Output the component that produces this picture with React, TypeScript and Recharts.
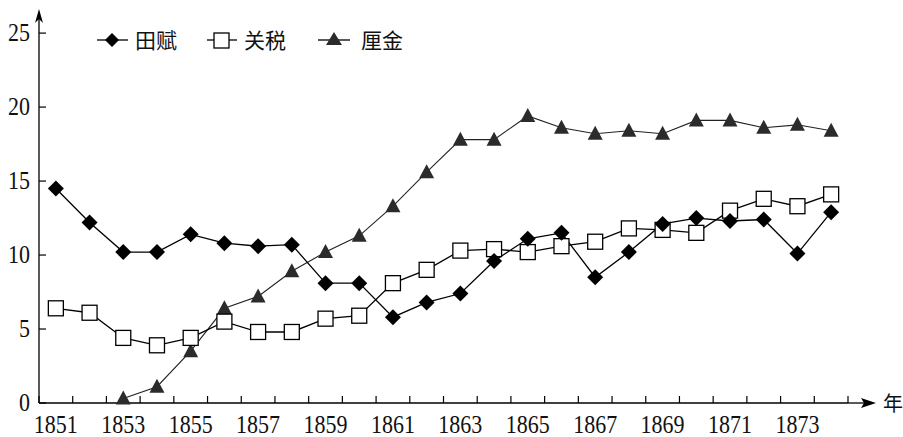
import { Line, LineChart, XAxis, YAxis } from "recharts";

// years on the x axis, one band each
const years = [
  1851, 1852, 1853, 1854, 1855, 1856, 1857, 1858, 1859, 1860, 1861, 1862,
  1863, 1864, 1865, 1866, 1867, 1868, 1869, 1870, 1871, 1872, 1873, 1874,
];
const yearLabels = [1851, 1853, 1855, 1857, 1859, 1861, 1863, 1865, 1867, 1869, 1871, 1873];
const yTicks = [0, 5, 10, 15, 20, 25];

// 田赋
const tianfu = [
  14.5, 12.2, 10.2, 10.2, 11.4, 10.8, 10.6, 10.7, 8.1, 8.1, 5.8, 6.8,
  7.4, 9.6, 11.1, 11.5, 8.5, 10.2, 12.1, 12.5, 12.3, 12.4, 10.1, 12.9,
];
// 关税
const guanshui = [
  6.4, 6.1, 4.4, 3.9, 4.4, 5.5, 4.8, 4.8, 5.7, 5.9, 8.1, 9.0,
  10.3, 10.4, 10.2, 10.6, 10.9, 11.8, 11.7, 11.5, 13.0, 13.8, 13.3, 14.1,
];
// 厘金 (none before 1853)
const lijin = [
  null, null, 0.3, 1.1, 3.5, 6.4, 7.2, 8.9, 10.2, 11.3, 13.3, 15.6,
  17.8, 17.8, 19.4, 18.6, 18.2, 18.4, 18.2, 19.1, 19.1, 18.6, 18.8, 18.4,
];

const data = years.map((year, i) => ({
  year,
  tianfu: tianfu[i],
  guanshui: guanshui[i],
  lijin: lijin[i],
}));

// tick marks sit on the band edges, labels on the odd years
const bandEdges = [...years.map((y) => y - 0.5), years[years.length - 1] + 0.5];
const xTicks = [...bandEdges, ...yearLabels].sort((a, b) => a - b);

const numFont = '"Liberation Serif", "Times New Roman", serif';
const cjkFont = '"Noto Sans CJK SC", sans-serif';

function Diamond({ cx, cy }: any) {
  if (cx == null || cy == null) return null;
  const r = 8;
  return (
    <polygon
      points={`${cx},${cy - r} ${cx + r},${cy} ${cx},${cy + r} ${cx - r},${cy}`}
      fill="#000"
    />
  );
}

function Square({ cx, cy }: any) {
  if (cx == null || cy == null) return null;
  return <rect x={cx - 7.5} y={cy - 7.5} width={15} height={15} fill="#fff" stroke="#000" strokeWidth={1.3} />;
}

function Triangle({ cx, cy }: any) {
  if (cx == null || cy == null) return null;
  return (
    <polygon
      points={`${cx},${cy - 8} ${cx + 7.5},${cy + 6} ${cx - 7.5},${cy + 6}`}
      fill="#2b2b2b"
    />
  );
}

function XTick({ x, y, payload }: any) {
  const v = payload.value;
  if (Number.isInteger(v)) {
    return (
      <text
        transform={`translate(${x},${y + 30}) scale(1,1.12)`}
        textAnchor="middle"
        fontFamily={numFont}
        fontSize={22}
        fill="#111"
      >
        {v}
      </text>
    );
  }
  return <line x1={x} x2={x} y1={y} y2={y - 7} stroke="#000" strokeWidth={1.2} />;
}

function YTick({ x, y, payload }: any) {
  return (
    <g>
      <line x1={x} x2={x + 7} y1={y} y2={y} stroke="#000" strokeWidth={1.2} />
      <text
        transform={`translate(${x - 9},${y + 8}) scale(1,1.12)`}
        textAnchor="end"
        fontFamily={numFont}
        fontSize={22}
        fill="#111"
      >
        {payload.value}
      </text>
    </g>
  );
}

function XArrow({ viewBox }: any) {
  const ex = viewBox.x + viewBox.width;
  const ay = viewBox.y;
  return (
    <g>
      <line x1={ex} x2={ex + 16} y1={ay} y2={ay} stroke="#000" strokeWidth={1.3} />
      <polygon points={`${ex + 28},${ay} ${ex + 13},${ay - 5} ${ex + 16},${ay} ${ex + 13},${ay + 5}`} fill="#000" />
      <text x={ex + 35} y={ay + 8} fontFamily={cjkFont} fontSize={20} fill="#111">
        年
      </text>
    </g>
  );
}

function YArrow({ viewBox }: any) {
  const ax = viewBox.x + viewBox.width;
  const ty = viewBox.y;
  return (
    <g>
      <line x1={ax} x2={ax} y1={ty} y2={ty - 8} stroke="#000" strokeWidth={1.3} />
      <polygon points={`${ax},${ty - 13} ${ax + 4},${ty + 1} ${ax},${ty - 3} ${ax - 4},${ty + 1}`} fill="#000" />
    </g>
  );
}

function LegendRow() {
  const text = { fontFamily: cjkFont, fontSize: 21, fill: "#111" };
  return (
    <svg width={903} height={60} style={{ position: "absolute", left: 0, top: 0, pointerEvents: "none" }}>
      <line x1={97} x2={128} y1={40} y2={40} stroke="#000" strokeWidth={1.3} />
      <polygon points="112,33 119,40 112,47 105,40" fill="#000" />
      <text x={135} y={48} {...text}>田赋</text>

      <line x1={207} x2={237} y1={40} y2={40} stroke="#000" strokeWidth={1.3} />
      <rect x={214} y={33} width={15} height={15} fill="#fff" stroke="#000" strokeWidth={1.3} />
      <text x={244} y={48} {...text}>关税</text>

      <line x1={318} x2={350} y1={40} y2={40} stroke="#000" strokeWidth={1.3} />
      <polygon points="334,32 342,45 326,45" fill="#2b2b2b" />
      <text x={361} y={48} {...text}>厘金</text>
    </svg>
  );
}

export default function App() {
  return (
    <div style={{ position: "relative", width: 903, height: 437, background: "#fff" }}>
      <style>{"body{margin:0}"}</style>
      <LineChart width={903} height={437} data={data} margin={{ top: 22, right: 55, bottom: 4, left: 0 }}>
        <XAxis
          dataKey="year"
          type="number"
          domain={[1850.5, 1874.5]}
          ticks={xTicks}
          interval={0}
          tickSize={0}
          tickMargin={0}
          height={30}
          axisLine={{ stroke: "#000", strokeWidth: 1.3 }}
          tickLine={false}
          tick={(p: any) => <XTick {...p} />}
          label={<XArrow />}
        />
        <YAxis
          type="number"
          domain={[0, 25.75]}
          ticks={yTicks}
          interval={0}
          width={39}
          tickSize={0}
          tickMargin={0}
          axisLine={{ stroke: "#000", strokeWidth: 1.3 }}
          tickLine={false}
          tick={(p: any) => <YTick {...p} />}
          label={<YArrow />}
        />
        <Line
          dataKey="lijin"
          stroke="#222"
          strokeWidth={1.1}
          dot={(p: any) => <Triangle key={`l${p.index}`} {...p} />}
          activeDot={false}
          isAnimationActive={false}
        />
        <Line
          dataKey="guanshui"
          stroke="#000"
          strokeWidth={1.3}
          dot={(p: any) => <Square key={`g${p.index}`} {...p} />}
          activeDot={false}
          isAnimationActive={false}
        />
        <Line
          dataKey="tianfu"
          stroke="#000"
          strokeWidth={1.3}
          dot={(p: any) => <Diamond key={`t${p.index}`} {...p} />}
          activeDot={false}
          isAnimationActive={false}
        />
      </LineChart>
      <LegendRow />
    </div>
  );
}
